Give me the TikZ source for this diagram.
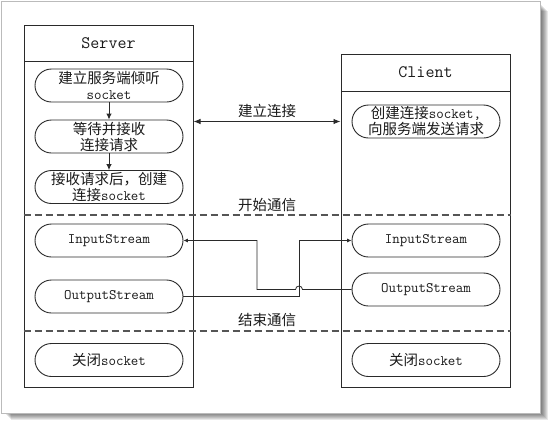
\documentclass[tikz,border=0pt]{standalone}
\usepackage{fontspec}
\newfontfamily\cjk{Noto Sans CJK SC}
\usetikzlibrary{arrows.meta}
\newcommand\zh[1]{{\cjk\fontsize{14.5pt}{16pt}\selectfont #1}}
\definecolor{linec}{HTML}{2A2A2A}
\definecolor{txt}{HTML}{1A1A1A}
\definecolor{dashc}{HTML}{555555}
\definecolor{framec}{HTML}{BBBBBB}
\begin{document}
\begin{tikzpicture}[x=1pt,y=-1pt,
  lane/.style={draw=linec, line width=1pt, inner sep=0pt},
  header/.style={draw=linec, line width=1pt, inner sep=0pt, minimum width=169pt, anchor=north, text=txt, font=\ttfamily\fontsize{17.5pt}{20pt}\selectfont},
  pill/.style={draw=linec, line width=0.9pt, rounded corners=16.5pt, minimum width=148pt, minimum height=33pt, inner sep=0pt, align=center, text=txt, font=\ttfamily\fontsize{14.5pt}{16pt}\selectfont},
  lbl/.style={text=txt, inner sep=0pt},
  flow/.style={draw=linec, line width=0.9pt, -{Latex[length=6pt,width=5.5pt]}},
  both/.style={draw=linec, line width=0.9pt, {Latex[length=7pt,width=5.5pt]}-{Latex[length=7pt,width=5.5pt]}},
  conn/.style={draw=linec, line width=0.8pt, -{Latex[length=4.5pt,width=4pt]}},
  sep/.style={draw=dashc, line width=1.1pt, dash pattern=on 7pt off 4pt}
]
\useasboundingbox (0,0) rectangle (554,426);
% frame with shadow
\foreach \k in {1,...,7}{
  \fill[black, opacity=0.09] (4+\k,4+\k) rectangle (540.5+\k,413+\k);
}
\fill[white] (1.5,1.5) rectangle (540.5,413);
\draw[framec, line width=0.8pt] (1.5,1.5) rectangle (540.5,413);

% lanes
\node[lane, minimum width=169pt, minimum height=362pt] (srv) at (108.5,206) {};
\node[header, minimum height=36pt] (srvh) at (srv.north) {Server};
\node[lane, minimum width=169pt, minimum height=333pt] (cli) at (425.5,220.5) {};
\node[header, minimum height=37pt] (clih) at (cli.north) {Client};

% server steps
\node[pill] (s1) at (109,85.5) {\zh{建立服务端倾听}\\socket};
\node[pill] (s2) at (109,136.5) {\zh{等待并接收}\\\zh{连接请求}};
\node[pill] (s3) at (109,187) {\zh{接收请求后，创建}\\\zh{连接}socket};
\draw[flow] (s1) -- (s2);
\draw[flow] (s2) -- (s3);

% client step
\node[pill] (c1) at (426,121.5) {\zh{创建连接}socket,\\\zh{向服务端发送请求}};

% connection
\draw[both] (srv.east |- c1) -- (cli.west |- c1);
\node[lbl] (l1) at (267,111) {\zh{建立连接}};

% separators
\draw[sep] (srv.west |- 0,215) -- (cli.east |- 0,215);
\node[lbl] (l2) at (267,205) {\zh{开始通信}};
\draw[sep] (srv.west |- 0,331) -- (cli.east |- 0,331);
\node[lbl] (l3) at (267,320) {\zh{结束通信}};

% streams
\node[pill] (si) at (109,240.5) {InputStream};
\node[pill] (so) at (109,296.5) {OutputStream};
\node[pill] (ci) at (426,240.5) {InputStream};
\node[pill] (co) at (426,289.5) {OutputStream};

\coordinate (b2) at (299,240.5);
\coordinate (b1) at (257,289.5);
\coordinate (hopR) at (302.5,289.5);
\coordinate (hopL) at (295.5,289.5);
\draw[conn] (so.east) -| (b2) -- (ci.west);
\draw[conn] (co.west) -- (hopR) .. controls +(0,-4.5) and +(0,-4.5) .. (hopL) -- (b1) |- (si.east);

% close
\node[pill] (sc) at (109,360) {\zh{关闭}socket};
\node[pill] (cc) at (426,360) {\zh{关闭}socket};
\end{tikzpicture}
\end{document}
